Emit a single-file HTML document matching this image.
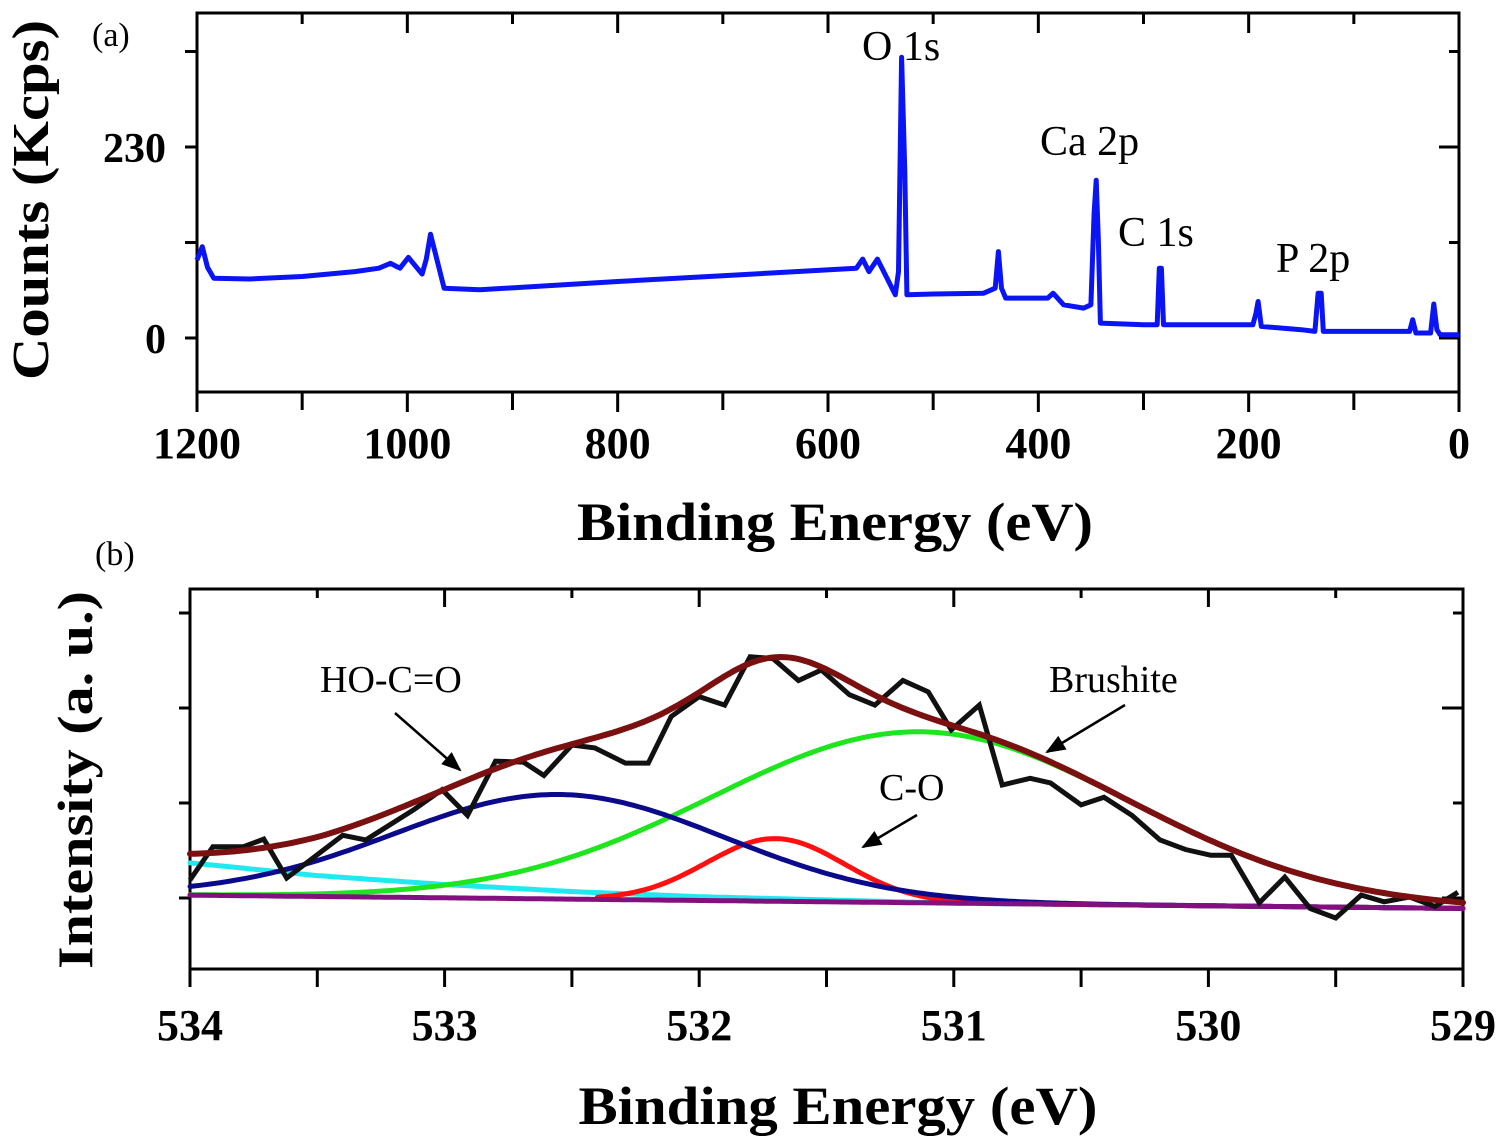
<!DOCTYPE html>
<html><head><meta charset="utf-8"><style>
html,body{margin:0;padding:0;background:#fff}
svg{display:block;font-family:"Liberation Serif","DejaVu Serif",serif}
</style></head><body>
<svg id="fig" width="1508" height="1148" viewBox="0 0 1508 1148">
<g id="pa"></g>
<g id="pb"></g>
</svg>
<script>
// Panel (a) survey spectrum data
const aEnergy=[1200,1195,1190,1184,1150,1100,1050,1027,1016,1010,1007,999,986,982,978,972,965,931,800,700,573,567,561,553,545,536,533,530,527,525,500,452,441,438,435,431,391,386,376,357,350,347,345,343,341,300,287,285,283,281,196,193,191,188,150,137,134,131,129,47,44,41,27,24,21,18,0];
const aCounts=[94,110,85,72,71,74,80,84,90,86,84,97,77,95,125,95,60,58,68,75,84,95,80,95,75,52,80,338,200,52,53,54,60,104,60,48,48,54,40,36,40,150,190,120,18,16,16,84,84,16,16,30,44,14,10,8,54,54,8,8,22,6,6,41,10,4,4];
const aXTicks=[1200,1000,800,600,400,200,0];
const aYTicks=[0,230];
const aPeakNames=["O 1s","Ca 2p","C 1s","P 2p"];
// Panel (b) O 1s data
const bEnergy=[534.00,533.91,533.79,533.71,533.62,533.40,533.31,533.12,533.01,532.91,532.80,532.69,532.61,532.50,532.41,532.29,532.20,532.11,532.00,531.90,531.80,531.71,531.61,531.52,531.41,531.31,531.20,531.10,531.01,530.90,530.81,530.70,530.62,530.50,530.41,530.30,530.19,530.09,529.99,529.91,529.80,529.70,529.60,529.50,529.40,529.31,529.21,529.11,529.02];
const bIntensity=[0.19,0.54,0.54,0.62,0.21,0.66,0.61,0.93,1.14,0.87,1.44,1.43,1.29,1.61,1.58,1.42,1.42,1.91,2.12,2.03,2.54,2.52,2.29,2.40,2.14,2.03,2.29,2.17,1.77,2.03,1.19,1.26,1.21,0.98,1.06,0.87,0.61,0.51,0.45,0.45,-0.05,0.22,-0.11,-0.21,0.03,-0.04,0.01,-0.09,0.06];
const compNames=["HO-C=O","Brushite","C-O"];
const compCenters=[532.55,531.13,531.70];
const compHeights=[1.10,1.80,0.66];
const compWidths=[0.65,0.82,0.27];
const bgEnergy=[534,529];
const bgLevel=[0.03,-0.11];
const cyanEnergy=[534,533.5,533,532.5,532,531.5,531,529];
const cyanOffset=[0.34,0.22,0.14,0.08,0.04,0.02,0.0,0.0];
const bXTicks=[534,533,532,531,530,529];

const NS="http://www.w3.org/2000/svg";
function mk(parent,tag,attrs,text){const e=document.createElementNS(NS,tag);for(const k in attrs)e.setAttribute(k,attrs[k]);if(text!==undefined)e.textContent=text;parent.appendChild(e);return e;}

// ---------- Panel (a) ----------
const pa=document.getElementById('pa');
const aL=197,aR=1459,aT=13,aB=392;
const ax=e=>aR-(e/1200)*(aR-aL);
const ay=v=>338-v*191/230;
let el;
el=mk(pa,'rect',{x:aL,y:aT,width:aR-aL,height:aB-aT,fill:'none',stroke:'#000','stroke-width':3});


for(let e=0;e<=1200;e+=100){
  const x=ax(e),long=(e%200===0);
  el=mk(pa,'line',{x1:x,x2:x,y1:aB,y2:aB+(long?20:18),stroke:'#000','stroke-width':3});
  
  
  el=mk(pa,'line',{x1:x,x2:x,y1:aT,y2:aT+(long?20:11),stroke:'#000','stroke-width':3});
  
  
}
for(let v=0;v<=345;v+=115){
  const y=ay(v),long=(v%230===0);
  el=mk(pa,'line',{x1:aL-12,x2:aL,y1:y,y2:y,stroke:'#000','stroke-width':3});
  
  
  el=mk(pa,'line',{x1:aR-(long?20:10),x2:aR,y1:y,y2:y,stroke:'#000','stroke-width':3});
  
  
}
aXTicks.forEach(t=>{
  el=mk(pa,'text',{x:ax(t),y:458,'text-anchor':'middle','font-size':44,'font-weight':'bold'},String(t));
  
  
});
aYTicks.forEach(t=>{
  el=mk(pa,'text',{x:166,y:ay(t)+15,'text-anchor':'end','font-size':42,'font-weight':'bold'},String(t));
  
  
});
el=mk(pa,'polyline',{points:aEnergy.map((e,i)=>ax(e).toFixed(1)+','+ay(aCounts[i]).toFixed(1)).join(' '),fill:'none',stroke:'#0a14f5','stroke-width':5,'stroke-linejoin':'round'});


const aLab=[[862,60],[1040,155],[1118,246],[1276,272]];
aPeakNames.forEach((n,i)=>{
  el=mk(pa,'text',{x:aLab[i][0],y:aLab[i][1],'font-size':42},n);
  
  
});
el=mk(pa,'text',{x:92,y:46,'font-size':34},'(a)');


el=mk(pa,'text',{x:0,y:0,'font-size':52,'font-weight':'bold','text-anchor':'middle',transform:'translate(48,200) rotate(-90)',textLength:360,lengthAdjust:'spacingAndGlyphs'},'Counts (Kcps)');


el=mk(pa,'text',{x:835,y:540,'font-size':54,'font-weight':'bold','text-anchor':'middle',textLength:516,lengthAdjust:'spacingAndGlyphs'},'Binding Energy (eV)');



// ---------- Panel (b) ----------
const pb=document.getElementById('pb');
const bL=190,bR=1463,bT=589,bBt=969;
const bx=e=>bL+(534-e)*(bR-bL)/5;
const by=v=>898-95*v;
const bg=e=>bgLevel[0]+(bgLevel[1]-bgLevel[0])*(bgEnergy[0]-e)/(bgEnergy[0]-bgEnergy[1]);
function cyanAt(e){for(let i=0;i<cyanEnergy.length-1;i++){if(e<=cyanEnergy[i]&&e>=cyanEnergy[i+1]){const f=(cyanEnergy[i]-e)/(cyanEnergy[i]-cyanEnergy[i+1]);return cyanOffset[i]+f*(cyanOffset[i+1]-cyanOffset[i]);}}return 0;}
const gauss=(k,e)=>compHeights[k]*Math.exp(-Math.pow(e-compCenters[k],2)/(2*compWidths[k]*compWidths[k]));
el=mk(pb,'rect',{x:bL,y:bT,width:bR-bL,height:bBt-bT,fill:'none',stroke:'#000','stroke-width':3});


for(let k=0;k<=10;k++){
  const x=bx(534-k*0.5),long=(k%2===0);
  el=mk(pb,'line',{x1:x,x2:x,y1:bBt,y2:bBt+18,stroke:'#000','stroke-width':3});
  
  
  el=mk(pb,'line',{x1:x,x2:x,y1:bT,y2:bT+(long?18:9),stroke:'#000','stroke-width':3});
  
  
}
for(let k=0;k<4;k++){
  const y=by(k),long=(k%2===0);
  el=mk(pb,'line',{x1:bL-11,x2:bL,y1:y,y2:y,stroke:'#000','stroke-width':3});
  
  
  el=mk(pb,'line',{x1:bR-(long?21:10),x2:bR,y1:y,y2:y,stroke:'#000','stroke-width':3});
  
  
}
bXTicks.forEach(t=>{
  el=mk(pb,'text',{x:bx(t),y:1040,'text-anchor':'middle','font-size':44,'font-weight':'bold'},String(t));
  
  
});
const grid=[];for(let i=0;i<=250;i++)grid.push(534-i*0.02);
function curve(fn,color,w,from,to){
  const pts=grid.filter(e=>e<=from&&e>=to).map(e=>bx(e).toFixed(1)+','+by(fn(e)).toFixed(1)).join(' ');
  return mk(pb,'polyline',{points:pts,fill:'none',stroke:color,'stroke-width':w,'stroke-linejoin':'round','stroke-linecap':'round'});
}
el=curve(e=>bg(e)+cyanAt(e),'#22e8f0',5,534,529);


el=curve(e=>bg(e)+gauss(1,e),'#1ee61e',5,534,529);


el=curve(e=>bg(e)+gauss(2,e),'#ff1010',5,532.4,529);


el=curve(e=>bg(e)+gauss(0,e),'#0a0a8a',5,534,529);


el=curve(e=>bg(e),'#82107e',5,534,529);


el=mk(pb,'polyline',{points:bEnergy.map((e,i)=>bx(e).toFixed(1)+','+by(bIntensity[i]).toFixed(1)).join(' '),fill:'none',stroke:'#111','stroke-width':5,'stroke-linejoin':'miter'});


el=curve(e=>bg(e)+cyanAt(e)+gauss(0,e)+gauss(1,e)+gauss(2,e),'#7a1010',6,534,529);


// annotations
const bLab=[[320,692],[1049,692],[879,800]];
compNames.forEach((n,i)=>{
  el=mk(pb,'text',{x:bLab[i][0],y:bLab[i][1],'font-size':38},n);
  
  
});
mk(pb,'defs',{}).innerHTML='<marker id="ah" markerWidth="22" markerHeight="16" refX="9" refY="4" orient="auto" markerUnits="userSpaceOnUse" viewBox="0 0 10 8"><path d="M0,0 L10,4 L0,8 z" fill="#000"/></marker>';
[[395,713,460,770],[1125,705,1047,752],[917,815,863,847]].forEach(a=>{
  el=mk(pb,'line',{x1:a[0],y1:a[1],x2:a[2],y2:a[3],stroke:'#000','stroke-width':2.5,'marker-end':'url(#ah)'});
  
  
});
el=mk(pb,'text',{x:95,y:565,'font-size':34},'(b)');


el=mk(pb,'text',{x:0,y:0,'font-size':50,'font-weight':'bold','text-anchor':'middle',transform:'translate(92,780) rotate(-90)',textLength:378,lengthAdjust:'spacingAndGlyphs'},'Intensity (a. u.)');


el=mk(pb,'text',{x:838,y:1124,'font-size':54,'font-weight':'bold','text-anchor':'middle',textLength:519,lengthAdjust:'spacingAndGlyphs'},'Binding Energy (eV)');


</script>
</body></html>
